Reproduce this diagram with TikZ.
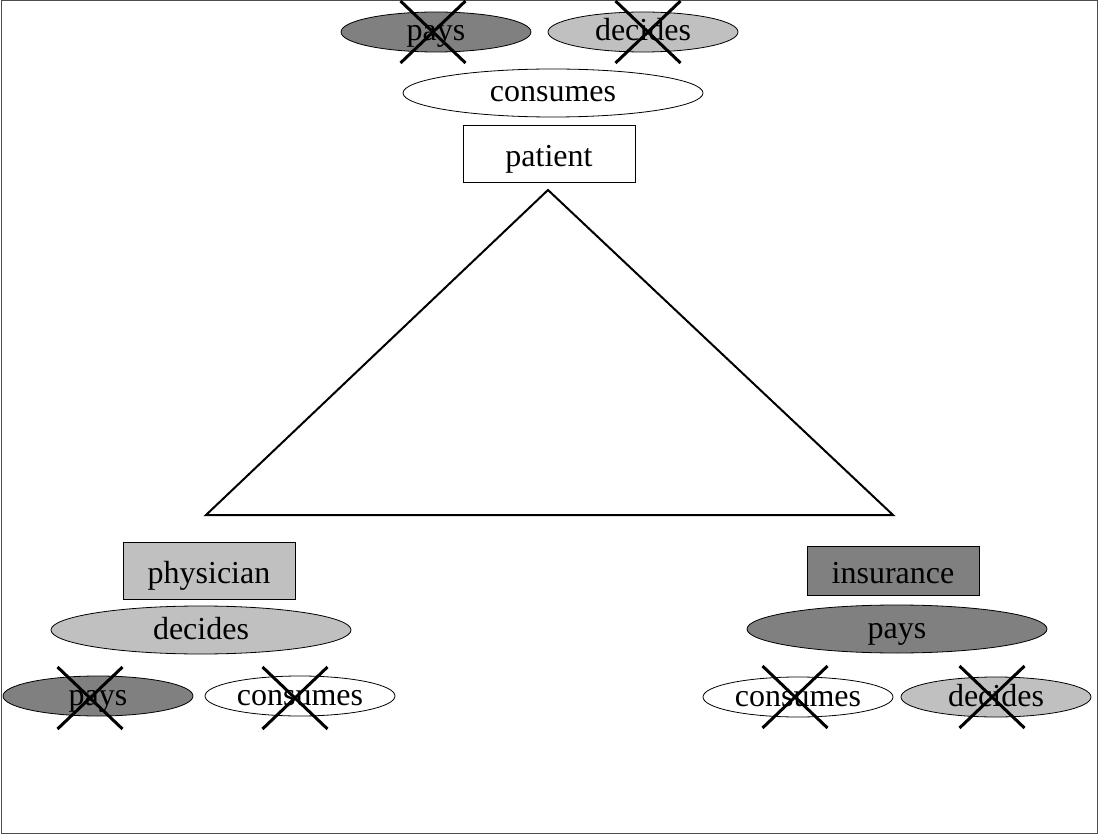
\documentclass[tikz,border=0pt]{standalone}
\usepackage{fontspec}
\setmainfont{Liberation Serif}
\definecolor{paygray}{RGB}{128,128,128}
\definecolor{decgray}{RGB}{192,192,192}
\usepackage{tikz}
\usetikzlibrary{shapes,positioning,calc}

\begin{document}
\begin{tikzpicture}[x=0.5pt,y=-0.5pt,
  act/.style={draw,ellipse,inner sep=0pt,minimum width=95pt,minimum height=20pt,
    text height=9pt,text depth=0pt,font=\fontsize{16}{19}\selectfont},
  bigact/.style={act,minimum width=150pt,minimum height=24pt},
  role/.style={draw,rectangle,inner sep=0pt,minimum width=86pt,minimum height=28.5pt,
    text height=12.5pt,text depth=0pt,font=\fontsize{16}{19}\selectfont},
  xmark/.style={cross out,draw,line width=1.5pt,inner sep=0pt,minimum width=31pt,minimum height=29.5pt}]
  \useasboundingbox (0,0) rectangle (1098,834);
  % frame
  \draw[black!70,line width=0.5pt] (1,1) rectangle (1097,833);
  % patient
  \node[act,fill=paygray] (tpays) at (436,32) {pays};
  \node[act,fill=decgray] (tdecides) at (643,32) {decides};
  \node[bigact,fill=white] (tconsumes) at (553,93) {consumes};
  \node[role] (patient) at (549,154) {patient};
  \node[xmark] (xtpays) at (433,32) {};
  \node[xmark] (xtdecides) at (648,32) {};
  % physician
  \node[role,fill=decgray] (physician) at (209,571) {physician};
  \node[bigact,fill=decgray] (ldecides) at (201,630) {decides};
  \node[act,fill=paygray] (lpays) at (98,696) {pays};
  \node[act,fill=white] (lconsumes) at (300,696) {consumes};
  \node[xmark] (xlpays) at (90,698) {};
  \node[xmark] (xlconsumes) at (295,698) {};
  % insurance
  \node[role,fill=paygray,minimum height=24.5pt] (insurance) at (893,571) {insurance};
  \node[bigact,fill=paygray] (rpays) at (897,629) {pays};
  \node[act,fill=white] (rconsumes) at (798,697) {consumes};
  \node[act,fill=decgray] (rdecides) at (996,697) {decides};
  \node[xmark] (xrconsumes) at (795,697) {};
  \node[xmark] (xrdecides) at (992,697) {};
  % triangle
  \coordinate (apex) at (548,190);
  \coordinate (lcorner) at (206,515);
  \coordinate (rcorner) at (893,515);
  \draw[line width=1pt] (apex) -- (lcorner) -- (rcorner) -- cycle;
\end{tikzpicture}
\end{document}
